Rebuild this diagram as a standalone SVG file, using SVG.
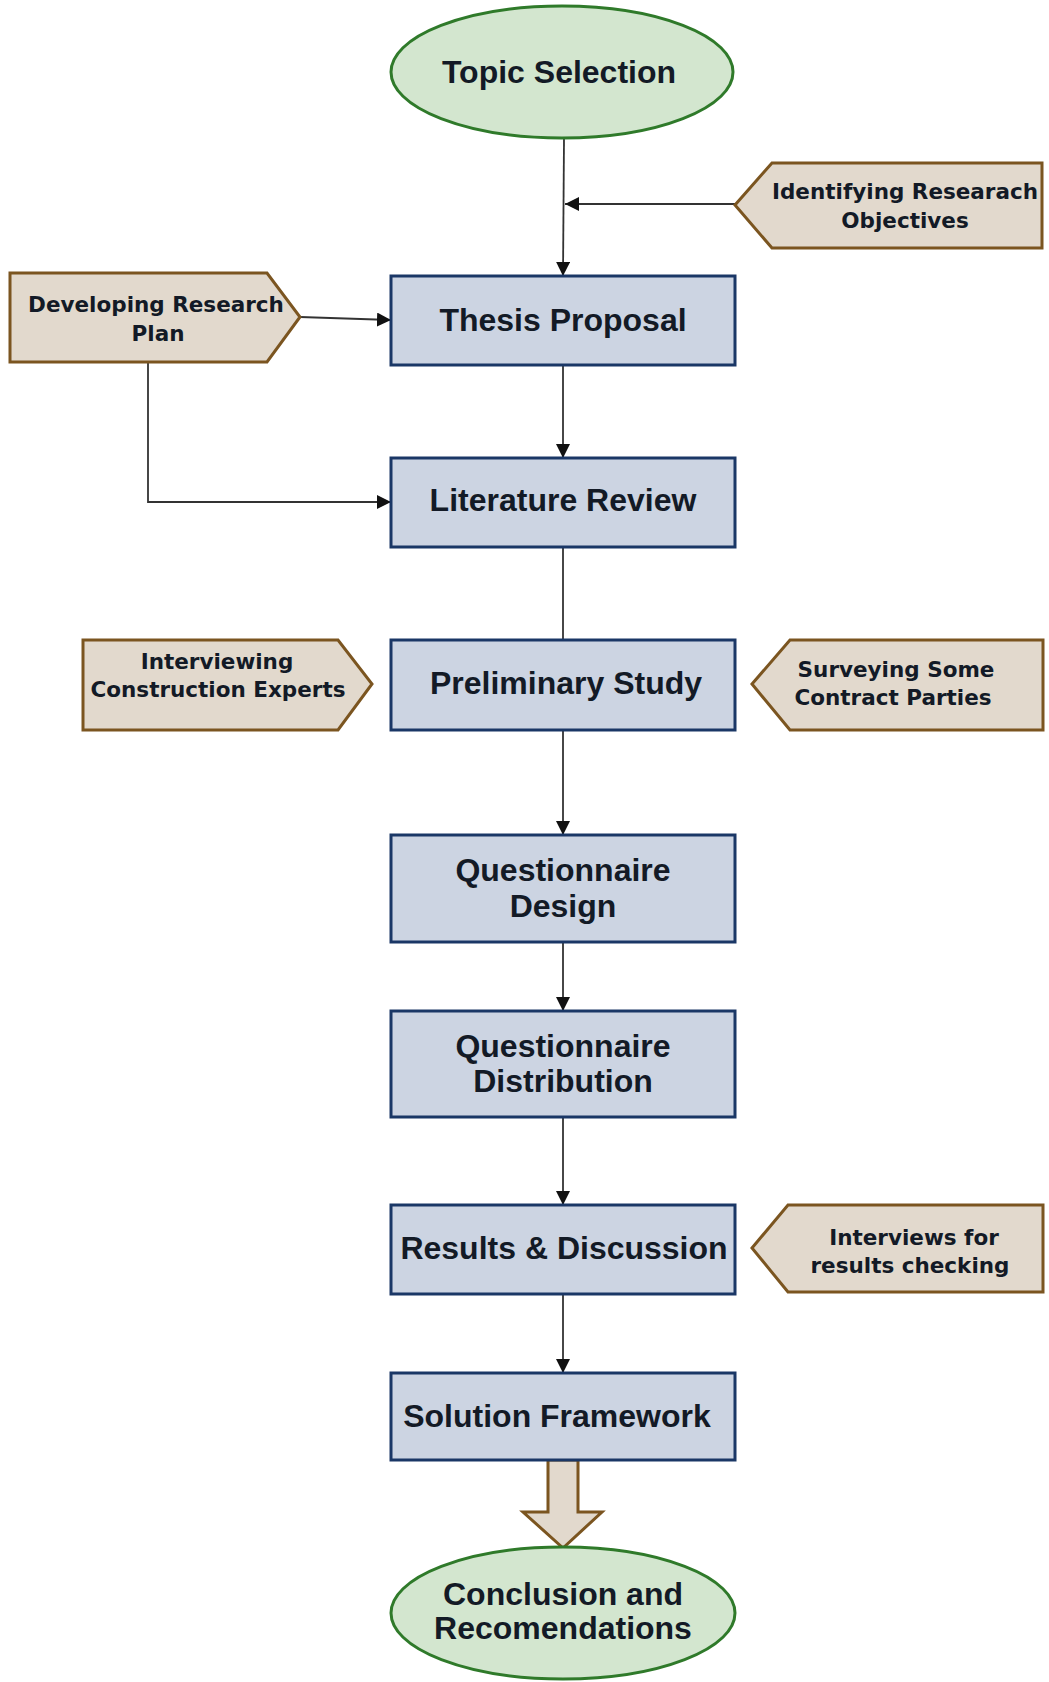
<svg xmlns="http://www.w3.org/2000/svg" width="1049" height="1682" viewBox="0 0 1049 1682">
  <defs>
    <marker id="arrow" viewBox="0 0 14 14" refX="14" refY="7" markerWidth="14" markerHeight="14" markerUnits="userSpaceOnUse" orient="auto">
      <path d="M0,0 L14,7 L0,14 z" fill="#111"/>
    </marker>
    <style>
      .oval { fill: #d3e6cf; stroke: #2f7a2a; stroke-width: 3; }
      .step { fill: #ccd4e2; stroke: #1a3766; stroke-width: 3; }
      .side { fill: #e2d9cd; stroke: #7b5520; stroke-width: 3; }
      .main-text { font-family: "Liberation Sans", Arial, sans-serif; font-weight: bold; font-size: 32px; fill: #131a26; text-anchor: middle; }
      .side-text { font-family: "DejaVu Sans", Verdana, sans-serif; font-weight: bold; font-size: 21.5px; fill: #131a26; text-anchor: middle; }
      .link { fill: none; stroke: #333; stroke-width: 1.8; }
    </style>
  </defs>
  <rect width="1049" height="1682" fill="#ffffff"/>

  <!-- connectors -->
  <g id="connectors">
    <path class="link" d="M564,139 L563,276" marker-end="url(#arrow)"/>
    <path class="link" d="M735,204 L565,204" marker-end="url(#arrow)"/>
    <path class="link" d="M300,317 L391,320" marker-end="url(#arrow)"/>
    <path class="link" d="M148,362 V502 H391" marker-end="url(#arrow)"/>
    <path class="link" d="M563,365 V458" marker-end="url(#arrow)"/>
    <path class="link" d="M563,547 V640"/>
    <path class="link" d="M563,730 V835" marker-end="url(#arrow)"/>
    <path class="link" d="M563,942 V1011" marker-end="url(#arrow)"/>
    <path class="link" d="M563,1117 V1205" marker-end="url(#arrow)"/>
    <path class="link" d="M563,1294 V1373" marker-end="url(#arrow)"/>
    <polygon class="side" points="548,1460 578,1460 578,1512 602,1512 563,1548 523,1512 548,1512"/>
  </g>

  <!-- main flow -->
  <g id="topic-selection">
    <ellipse class="oval" cx="562" cy="72" rx="171" ry="66"/>
    <text class="main-text" x="559" y="83">Topic Selection</text>
  </g>
  <g id="thesis-proposal">
    <rect class="step" x="391" y="276" width="344" height="89"/>
    <text class="main-text" x="563" y="331">Thesis Proposal</text>
  </g>
  <g id="literature-review">
    <rect class="step" x="391" y="458" width="344" height="89"/>
    <text class="main-text" x="563" y="511">Literature Review</text>
  </g>
  <g id="preliminary-study">
    <rect class="step" x="391" y="640" width="344" height="90"/>
    <text class="main-text" x="566" y="694">Preliminary Study</text>
  </g>
  <g id="questionnaire-design">
    <rect class="step" x="391" y="835" width="344" height="107"/>
    <text class="main-text" x="563" y="881">Questionnaire</text>
    <text class="main-text" x="563" y="917">Design</text>
  </g>
  <g id="questionnaire-distribution">
    <rect class="step" x="391" y="1011" width="344" height="106"/>
    <text class="main-text" x="563" y="1057">Questionnaire</text>
    <text class="main-text" x="563" y="1092">Distribution</text>
  </g>
  <g id="results-discussion">
    <rect class="step" x="391" y="1205" width="344" height="89"/>
    <text class="main-text" x="564" y="1259">Results &amp; Discussion</text>
  </g>
  <g id="solution-framework">
    <rect class="step" x="391" y="1373" width="344" height="87"/>
    <text class="main-text" x="557" y="1427">Solution Framework</text>
  </g>
  <g id="conclusion">
    <ellipse class="oval" cx="563" cy="1613" rx="172" ry="66"/>
    <text class="main-text" x="563" y="1605">Conclusion and</text>
    <text class="main-text" x="563" y="1639">Recomendations</text>
  </g>

  <!-- supporting activities -->
  <g id="identifying-objectives">
    <polygon class="side" points="735,205 772,163 1042,163 1042,248 772,248"/>
    <text class="side-text" x="905" y="199">Identifying Researach</text>
    <text class="side-text" x="905" y="228">Objectives</text>
  </g>
  <g id="developing-plan">
    <polygon class="side" points="10,273 267,273 300,317 267,362 10,362"/>
    <text class="side-text" x="156" y="312">Developing Research</text>
    <text class="side-text" x="158" y="341">Plan</text>
  </g>
  <g id="interviewing-experts">
    <polygon class="side" points="83,640 338,640 372,684 338,730 83,730"/>
    <text class="side-text" x="217" y="669">Interviewing</text>
    <text class="side-text" x="218" y="697">Construction Experts</text>
  </g>
  <g id="surveying-parties">
    <polygon class="side" points="752,684 790,640 1043,640 1043,730 790,730"/>
    <text class="side-text" x="896" y="677">Surveying Some</text>
    <text class="side-text" x="893" y="705">Contract Parties</text>
  </g>
  <g id="interviews-checking">
    <polygon class="side" points="752,1248 788,1205 1043,1205 1043,1292 788,1292"/>
    <text class="side-text" x="914" y="1245">Interviews for</text>
    <text class="side-text" x="910" y="1273">results checking</text>
  </g>
</svg>
